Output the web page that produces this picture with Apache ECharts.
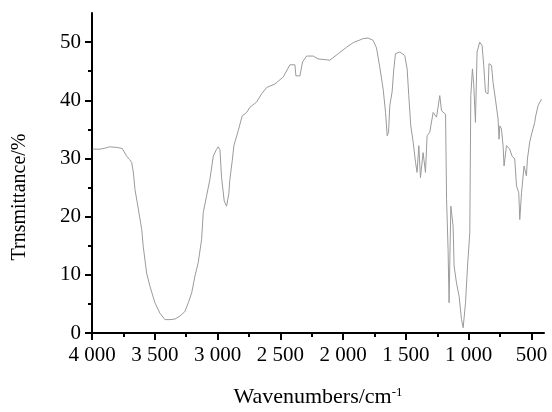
<!DOCTYPE html>
<html>
<head>
<meta charset="utf-8">
<script src="https://cdn.jsdelivr.net/npm/echarts@6/dist/echarts.min.js"></script>
<style>
  html, body { margin: 0; padding: 0; background: #fff; }
  #chart { width: 552px; height: 412px; }
</style>
</head>
<body>
<div id="chart"></div>
<script>
// FTIR spectrum (wavenumber in cm-1, transmittance in %)
var wavenumbers = [
  3995, 3936, 3890, 3860, 3800, 3759, 3724, 3700, 3684, 3670, 3658, 3631, 3604, 3592, 3565,
  3538, 3499, 3459, 3419, 3379, 3339, 3300, 3260, 3233, 3206, 3180, 3154, 3127, 3114, 3087,
  3061, 3034, 3010, 2995, 2981, 2968, 2947, 2928, 2920, 2910, 2902, 2883, 2870, 2835, 2804,
  2769, 2742, 2689, 2649, 2609, 2543, 2477, 2424, 2384, 2376, 2344, 2323, 2291, 2238, 2199,
  2185, 2106, 2039, 1973, 1920, 1840, 1801, 1761, 1734, 1708, 1681, 1662, 1649, 1638, 1628,
  1610, 1596, 1583, 1548, 1509, 1490, 1477, 1461, 1442, 1423, 1411, 1397, 1384, 1363, 1344,
  1331, 1310, 1283, 1256, 1230, 1216, 1184, 1176, 1164, 1156, 1142, 1124, 1116, 1097, 1076,
  1057, 1044, 1025, 1009, 991, 983, 970, 959, 946, 933, 912, 893, 880, 866, 846,
  838, 818, 806, 787, 766, 758, 752, 739, 726, 718, 699, 673, 654, 633, 619,
  601, 593, 579, 559, 540, 532, 514, 495, 474, 466, 447, 420
];
var transmittance = [
  31.6, 31.6, 31.8, 32.0, 31.9, 31.7, 30.4, 29.8, 29.3, 27.5, 24.7, 21.3, 17.8, 14.9, 10.3,
  8.0, 5.2, 3.4, 2.3, 2.3, 2.4, 2.9, 3.7, 5.2, 6.9, 9.8, 12.1, 16.1, 20.7, 23.6,
  26.4, 30.4, 31.5, 32.0, 31.5, 26.7, 22.7, 21.8, 21.6, 24.0, 26.4, 29.6, 32.2, 34.8, 37.3,
  37.9, 38.8, 39.7, 41.1, 42.2, 42.8, 44.0, 46.1, 46.1, 44.2, 44.2, 46.6, 47.6, 47.6, 47.1,
  46.9, 46.9, 48.0, 49.1, 49.9, 50.6, 50.7, 50.3, 49.0, 45.7, 41.9, 37.9, 33.9, 34.5, 39.1,
  41.4, 45.4, 48.0, 48.3, 47.7, 45.4, 40.8, 35.6, 32.8, 29.3, 27.6, 32.2, 26.7, 31.0, 27.6,
  33.9, 34.5, 37.9, 37.1, 40.8, 38.2, 37.6, 23.0, 14.4, 5.2, 21.8, 18.4, 11.5, 8.6, 6.3,
  2.3, 0.9, 5.2, 11.5, 17.2, 40.8, 45.4, 42.5, 36.2, 48.3, 50.0, 49.4, 46.0, 41.4, 41.1,
  46.3, 46.0, 43.1, 40.2, 36.8, 33.3, 35.6, 35.1, 32.2, 28.7, 32.2, 31.6, 30.4, 29.9, 25.3,
  24.1, 19.5, 24.1, 28.7, 27.0, 29.9, 32.8, 34.5, 36.2, 37.3, 39.1, 40.2
];
var xMajorTicks = [4000, 3500, 3000, 2500, 2000, 1500, 1000, 500];
var xMinorTicks = [3750, 3250, 2750, 2250, 1750, 1250, 750];
var yMajorTicks = [0, 10, 20, 30, 40, 50];
var yMinorTicks = [5, 15, 25, 35, 45];

var serif = '"Liberation Serif", "Times New Roman", serif';
var black = '#000';

function fmtWave(v) {
  if (v >= 1000) {
    var rest = String(v % 1000);
    while (rest.length < 3) rest = '0' + rest;
    return Math.floor(v / 1000) + ' ' + rest;
  }
  return String(v);
}

var points = wavenumbers.map(function (w, i) { return [w, transmittance[i]]; });

var chart = echarts.init(document.getElementById('chart'), null, { renderer: 'canvas' });

var option = {
  animation: false,
  grid: { left: 92, right: 8, top: 13, bottom: 79, outerBoundsMode: 'none', containLabel: false },
  xAxis: [{
    type: 'value',
    inverse: true,
    min: 400,
    max: 4000,
    axisLine: { lineStyle: { color: black, width: 2 } },
    axisTick: { customValues: xMajorTicks, length: 7, lineStyle: { color: black, width: 2 } },
    axisLabel: {
      customValues: xMajorTicks,
      formatter: fmtWave,
      margin: 12,
      color: black,
      fontFamily: serif,
      fontSize: 21
    },
    splitLine: { show: false },
    name: 'Wavenumbers/cm{sup|-1}',
    nameLocation: 'middle',
    nameGap: 53,
    nameTextStyle: {
      color: black,
      fontFamily: serif,
      fontSize: 22,
      rich: {
        sup: { fontFamily: serif, fontSize: 13, color: black, verticalAlign: 'top', padding: [0, 0, 10, 0] }
      }
    }
  }, {
    type: 'value',
    inverse: true,
    min: 400,
    max: 4000,
    position: 'bottom',
    axisLine: { show: false },
    axisTick: { customValues: xMinorTicks, length: 4, lineStyle: { color: black, width: 2 } },
    axisLabel: { show: false },
    splitLine: { show: false }
  }],
  yAxis: [{
    type: 'value',
    min: 0,
    max: 55,
    axisLine: { show: true, lineStyle: { color: black, width: 2 } },
    axisTick: { show: true, customValues: yMajorTicks, length: 7, lineStyle: { color: black, width: 2 } },
    axisLabel: {
      customValues: yMajorTicks,
      margin: 11,
      color: black,
      fontFamily: serif,
      fontSize: 21
    },
    splitLine: { show: false }
  }, {
    type: 'value',
    min: 0,
    max: 55,
    position: 'left',
    axisLine: { show: false },
    axisTick: { show: true, customValues: yMinorTicks, length: 4, lineStyle: { color: black, width: 2 } },
    axisLabel: { show: false },
    splitLine: { show: false }
  }],
  graphic: [{
    type: 'text',
    x: 20,
    y: 197,
    rotation: Math.PI / 2,
    style: {
      text: 'Trnsmittance/%',
      fill: black,
      font: '20px ' + serif,
      textAlign: 'center',
      textVerticalAlign: 'middle'
    }
  }],
  series: [{
    type: 'line',
    xAxisIndex: 0,
    yAxisIndex: 0,
    data: points,
    showSymbol: false,
    lineStyle: { color: '#9a9a9a', width: 1 },
    silent: true
  }]
};

chart.setOption(option);
</script>
</body>
</html>
